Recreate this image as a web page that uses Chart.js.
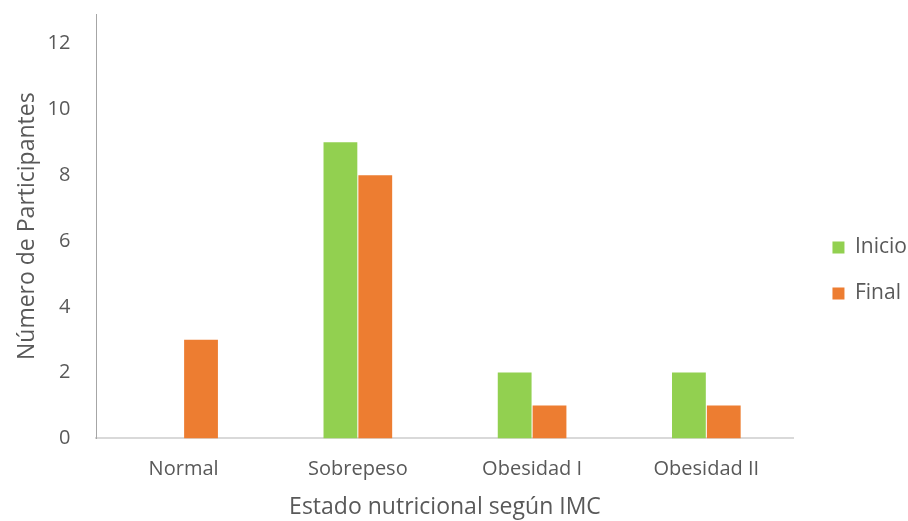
<!DOCTYPE html>
<html>
<head>
<meta charset="utf-8">
<script src="https://cdn.jsdelivr.net/npm/chart.js@4/dist/chart.umd.min.js"></script>
<style>
  html, body { margin: 0; padding: 0; background: #ffffff; }
  #wrap { position: relative; width: 908px; height: 521px; }
</style>
</head>
<body>
<div id="wrap"><canvas id="chart"></canvas></div>
<script>
// Estado nutricional de los participantes (IMC), al inicio y al final
const categories = ['Normal', 'Sobrepeso', 'Obesidad I', 'Obesidad II'];
const inicio = [0, 9, 2, 2];
const final = [3, 8, 1, 1];
const seriesNames = ['Inicio', 'Final'];
const yTicks = [0, 2, 4, 6, 8, 10, 12];

const TEXT = '#595959';
const FONT = '"Open Sans", "Liberation Sans", sans-serif';

// Legend: a little wider than its content, and drawn shifted right/down inside its box
const LEGEND_EXTRA_W = 5;
const LEGEND_DX = 14;
const LEGEND_DY = 3;
const legendShift = {
  id: 'legendShift',
  afterInit(chart) {
    const lg = chart.legend;
    if (!lg) return;
    const fit = lg.fit;
    lg.fit = function () {
      fit.call(this);
      this.width += LEGEND_EXTRA_W;
    };
    const draw = lg.draw;
    lg.draw = function () {
      const ctx = this.ctx;
      ctx.save();
      ctx.translate(LEGEND_DX, LEGEND_DY);
      draw.call(this);
      ctx.restore();
    };
  }
};

new Chart(document.getElementById('chart'), {
  type: 'bar',
  data: {
    labels: categories,
    datasets: [
      { label: seriesNames[0], data: inicio, backgroundColor: '#92D050' },
      { label: seriesNames[1], data: final, backgroundColor: '#ED7D31' }
    ]
  },
  options: {
    responsive: true,
    maintainAspectRatio: false,
    animation: false,
    events: [],
    layout: { padding: { top: 14, left: 14, right: 0, bottom: 0 } },
    datasets: { bar: { categoryPercentage: 0.4, barPercentage: 0.97 } },
    plugins: {
      tooltip: { enabled: false },
      legend: {
        position: 'right',
        labels: {
          boxWidth: 12,
          boxHeight: 12,
          padding: 25,
          color: TEXT,
          font: { family: FONT, size: 21 }
        }
      }
    },
    scales: {
      x: {
        // tick marks are hidden; tickLength only reserves the gap under the axis
        grid: { display: false, tickLength: 19 },
        border: { display: true, color: '#d9d9d9', width: 2 },
        ticks: { color: TEXT, padding: 0, font: { family: FONT, size: 20 } },
        title: {
          display: true,
          text: 'Estado nutricional según IMC',
          color: TEXT,
          font: { family: FONT, size: 23 },
          padding: { top: 12, bottom: 0 }
        }
      },
      y: {
        min: 0,
        max: 12.9,
        grid: { display: false, tickLength: 24 },
        border: { display: true, color: '#a6a6a6', width: 1 },
        afterBuildTicks(scale) {
          scale.ticks = yTicks.map(v => ({ value: v }));
        },
        ticks: { color: TEXT, padding: 2, font: { family: FONT, size: 20 } },
        title: {
          display: true,
          text: 'Número de Participantes',
          color: TEXT,
          font: { family: FONT, size: 23 },
          padding: { top: 0, bottom: 4 }
        }
      }
    }
  },
  plugins: [legendShift]
});
</script>
</body>
</html>
